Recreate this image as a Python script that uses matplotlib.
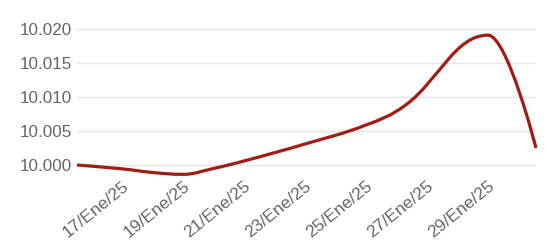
import matplotlib
matplotlib.use("Agg")
import matplotlib.pyplot as plt
from matplotlib.path import Path
from matplotlib.patches import PathPatch

# Data (day of January 2025, value)
days = [15.525, 17, 18, 19, 20, 21, 23, 25, 26.3, 29, 30.575]
values = [10.0000, 9.99944, 9.99890, 9.99863, 9.99949, 10.00059, 10.00309,
          10.00588, 10.00882, 10.01910, 10.00250]
tick_days = [17, 19, 21, 23, 25, 27, 29]
tick_labels = ["17/Ene/25", "19/Ene/25", "21/Ene/25", "23/Ene/25",
               "25/Ene/25", "27/Ene/25", "29/Ene/25"]
y_ticks = [10.000, 10.005, 10.010, 10.015, 10.020]
y_labels = ["10.000", "10.005", "10.010", "10.015", "10.020"]

LINE = "#a01c14"
TEXT = "#666666"
GRID = "#e6e6e6"

plt.rcParams['font.family'] = ['Liberation Sans', 'DejaVu Sans']

fig = plt.figure(figsize=(5.47, 2.45), dpi=100)
ax = fig.add_axes([0.14077, 0.2793, 0.8391, 0.6162])
ax.set_xlim(15.525, 30.575)
ax.set_ylim(9.9983, 10.0205)


def spline_path(xs, ys, smoothing=1.5):
    """Highcharts-style spline: cubic Bezier segments through the points."""
    n = len(xs)
    denom = smoothing + 1
    left = [(xs[i], ys[i]) for i in range(n)]
    right = [(xs[i], ys[i]) for i in range(n)]
    for i in range(1, n - 1):
        px, py = xs[i], ys[i]
        lx, ly = xs[i - 1], ys[i - 1]
        nx, ny = xs[i + 1], ys[i + 1]
        lcx = (smoothing * px + lx) / denom
        lcy = (smoothing * py + ly) / denom
        rcx = (smoothing * px + nx) / denom
        rcy = (smoothing * py + ny) / denom
        if rcx != lcx:
            corr = ((rcy - lcy) * (rcx - px)) / (rcx - lcx) + py - rcy
            lcy += corr
            rcy += corr
        if lcy > ly and lcy > py:
            lcy = max(ly, py)
            rcy = 2 * py - lcy
        elif lcy < ly and lcy < py:
            lcy = min(ly, py)
            rcy = 2 * py - lcy
        if rcy > ny and rcy > py:
            rcy = max(ny, py)
            lcy = 2 * py - rcy
        elif rcy < ny and rcy < py:
            rcy = min(ny, py)
            lcy = 2 * py - rcy
        left[i] = (lcx, lcy)
        right[i] = (rcx, rcy)
    verts = [(xs[0], ys[0])]
    codes = [Path.MOVETO]
    for i in range(1, n):
        verts += [right[i - 1], left[i], (xs[i], ys[i])]
        codes += [Path.CURVE4] * 3
    return Path(verts, codes)


ax.add_patch(PathPatch(spline_path(days, values), facecolor="none",
                       edgecolor=LINE, linewidth=2.3, capstyle="butt",
                       joinstyle="round", clip_on=False, zorder=3))

ax.set_yticks(y_ticks)
ax.set_yticklabels(y_labels)
ax.set_xticks(tick_days)
ax.set_xticklabels(tick_labels, rotation=39, ha="right",
                   rotation_mode="anchor")
ax.tick_params(axis="y", length=0, pad=3.5, labelsize=12.3, colors=TEXT)
ax.tick_params(axis="x", length=0, pad=1.5, labelsize=12.6, colors=TEXT)
ax.grid(axis="y", color=GRID, linewidth=1)
ax.grid(axis="x", visible=False)
ax.set_axisbelow(True)
for s in ax.spines.values():
    s.set_visible(False)

fig.savefig("out.png", dpi=100)
